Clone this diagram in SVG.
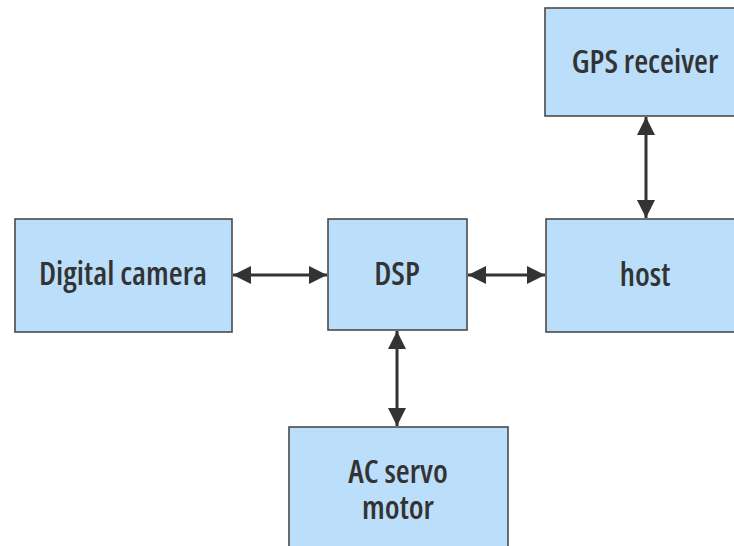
<svg xmlns="http://www.w3.org/2000/svg" width="734" height="546" viewBox="0 0 734 546">
  <style>
    .box { fill: #bbdefa; stroke: #4a4a4a; stroke-width: 1.6; }
    .lbl { font-family: "Open Sans", "Liberation Sans", sans-serif; font-weight: 600; font-stretch: 75%; font-size: 32px; fill: #333333; text-anchor: middle; }
    .link { stroke: #333333; stroke-width: 3; fill: none; marker-start: url(#head); marker-end: url(#head); }
  </style>
  <defs>
    <marker id="head" viewBox="0 0 10 10" refX="10" refY="5" markerWidth="7" markerHeight="6" markerUnits="strokeWidth" orient="auto-start-reverse">
      <path d="M0,0 L10,5 L0,10 Z" fill="#333333"/>
    </marker>
  </defs>
  <rect width="734" height="546" fill="#ffffff"/>

  <g id="camera">
    <rect class="box" x="15" y="219" width="217" height="113"/>
    <text class="lbl" x="123" y="285">Digital camera</text>
  </g>
  <g id="dsp">
    <rect class="box" x="328" y="219" width="139" height="111"/>
    <text class="lbl" x="397" y="285">DSP</text>
  </g>
  <g id="host">
    <rect class="box" x="546" y="219" width="200" height="113"/>
    <text class="lbl" x="645" y="286">host</text>
  </g>
  <g id="gps">
    <rect class="box" x="545" y="8" width="200" height="108"/>
    <text class="lbl" x="645" y="73">GPS receiver</text>
  </g>
  <g id="servo">
    <rect class="box" x="289" y="427" width="219" height="130"/>
    <text class="lbl" x="398" y="483">AC servo</text>
    <text class="lbl" x="398" y="519">motor</text>
  </g>

  <g id="connectors">
    <line class="link" x1="233" y1="275" x2="327" y2="275"/>
    <line class="link" x1="468" y1="275" x2="545" y2="275"/>
    <line class="link" x1="646" y1="117" x2="646" y2="218"/>
    <line class="link" x1="397" y1="331" x2="397" y2="426"/>
  </g>
</svg>
